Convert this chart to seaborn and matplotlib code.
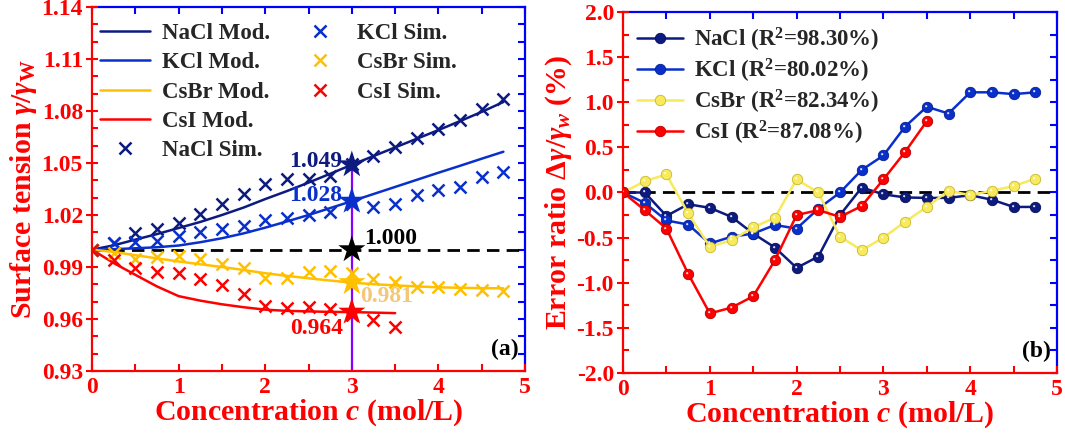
import numpy as np
import pandas as pd
import matplotlib
matplotlib.use("Agg")
import matplotlib.pyplot as plt
import seaborn as sns
from matplotlib.ticker import MultipleLocator, FormatStrFormatter
from matplotlib.lines import Line2D
from matplotlib.path import Path

# ---------------- data ----------------
conc = [0.0, 0.25, 0.5, 0.75, 1.0, 1.25, 1.5, 1.75, 2.0, 2.25,
        2.5, 2.75, 3.0, 3.25, 3.5, 3.75, 4.0, 4.25, 4.5, 4.75]
conc_csi = [0.0, 0.25, 0.5, 0.75, 1.0, 1.25, 1.5, 1.75, 2.0, 2.25,
            2.5, 2.75, 3.0, 3.25, 3.5]

# simulated surface tension ratio
nacl_sim = [1.000, 1.0036, 1.0098, 1.0117, 1.0155, 1.0204, 1.0262, 1.0322, 1.0381, 1.0408,
            1.0408, 1.0425, 1.0492, 1.0542, 1.0594, 1.0646, 1.0694, 1.0748, 1.0810, 1.0869]
kcl_sim = [1.000, 1.0036, 1.0046, 1.0050, 1.0079, 1.0103, 1.0117, 1.0136, 1.0171, 1.0184,
           1.0200, 1.0215, 1.0265, 1.0248, 1.0263, 1.0315, 1.0344, 1.0363, 1.0417, 1.0450]
csbr_sim = [1.000, 0.9979, 0.9946, 0.9956, 0.9962, 0.9946, 0.9915, 0.9892, 0.9834, 0.9838,
            0.9873, 0.9877, 0.9863, 0.9829, 0.9811, 0.9783, 0.9783, 0.9773, 0.9767, 0.9763]
csi_sim = [1.000, 0.9940, 0.9892, 0.9873, 0.9863, 0.9830, 0.9796, 0.9742, 0.9676, 0.9665,
           0.9670, 0.9655, 0.9626, 0.9594, 0.9555]

# model surface tension ratio
nacl_mod = [1.000, 1.0025, 1.0058, 1.0090, 1.0125, 1.0160, 1.0200, 1.0243, 1.0292, 1.0338,
            1.0387, 1.0438, 1.0490, 1.0540, 1.0590, 1.0640, 1.0690, 1.0742, 1.0795, 1.0852]
kcl_mod = [1.000, 1.0003, 1.0008, 1.0014, 1.0024, 1.0043, 1.0066, 1.0094, 1.0127, 1.0163,
           1.0200, 1.0240, 1.0280, 1.0321, 1.0362, 1.0403, 1.0444, 1.0484, 1.0525, 1.0565]
csbr_mod = [1.000, 0.9987, 0.9968, 0.9950, 0.9932, 0.9916, 0.9900, 0.9883, 0.9864, 0.9849,
            0.9835, 0.9822, 0.9810, 0.9801, 0.9794, 0.9788, 0.9783, 0.9780, 0.9778, 0.9777]
csi_mod = [1.000, 0.9923, 0.9855, 0.9788, 0.9732, 0.9706, 0.9685, 0.9668, 0.9654, 0.9647,
           0.9644, 0.9641, 0.9640, 0.9637, 0.9634]

# highlighted values at c = 3 mol/L
star_x = 3.0
star_vals = [1.049, 1.028, 1.000, 0.981, 0.964]
star_labels = ["1.049", "1.028", "1.000", "0.981", "0.964"]

# error ratio (%)
nacl_err = [0.0, 0.0, -0.26, -0.13, -0.17, -0.27, -0.455, -0.61, -0.835, -0.71,
            -0.25, 0.055, -0.02, -0.055, -0.06, -0.06, -0.03, -0.08, -0.16, -0.16]
kcl_err = [0.0, -0.115, -0.31, -0.355, -0.565, -0.49, -0.455, -0.36, -0.40, -0.18,
           0.0, 0.25, 0.41, 0.73, 0.95, 0.875, 1.11, 1.11, 1.09, 1.11]
csbr_err = [0.0, 0.125, 0.20, -0.23, -0.60, -0.53, -0.385, -0.28, 0.145, 0.0,
            -0.49, -0.64, -0.50, -0.325, -0.16, 0.02, -0.03, 0.02, 0.07, 0.155]
csi_err = [0.0, -0.195, -0.40, -0.90, -1.34, -1.275, -1.15, -0.75, -0.25, -0.195,
           -0.27, -0.15, 0.145, 0.45, 0.79]

r2_labels = ["NaCl (R$^2$=98.30%)", "KCl (R$^2$=80.02%)",
             "CsBr (R$^2$=82.34%)", "CsI (R$^2$=87.08%)"]

# ---------------- style ----------------
sns.set_theme(style="white")
plt.rcParams["font.family"] = ["Liberation Serif", "DejaVu Serif"]
plt.rcParams["font.weight"] = "bold"
plt.rcParams["mathtext.fontset"] = "custom"
plt.rcParams["mathtext.rm"] = "Liberation Serif:bold"
plt.rcParams["mathtext.it"] = "Liberation Serif:italic:bold"
plt.rcParams["mathtext.bf"] = "Liberation Serif:bold"

C_NACL = "#0d1a80"
C_KCL = "#0a30cc"
C_CSBR = "#ffc000"
C_CSI = "#ff0000"
C_CSBR_B = "#f7ea5c"
RED = "#ff0000"
BLUE = "#0000ff"
TICK_FS = 17
LAB_FS = 21.5
LEG_FS = 16.5

fig = plt.figure(figsize=(10.65, 4.41), dpi=100)
ax1 = fig.add_axes([0.0864, 0.1587, 0.4066, 0.8254])
ax2 = fig.add_axes([0.585, 0.1542, 0.4075, 0.8186])


def style_axes(ax, xmaj, xmin, ymaj, ymin, yfmt, right_step, top_step):
    for s in ["top", "right"]:
        ax.spines[s].set_visible(False)
    for s in ["left", "bottom"]:
        ax.spines[s].set_color(RED)
        ax.spines[s].set_linewidth(1.6)
    ax.xaxis.set_major_locator(MultipleLocator(xmaj))
    ax.xaxis.set_minor_locator(MultipleLocator(xmin))
    ax.yaxis.set_major_locator(MultipleLocator(ymaj))
    ax.yaxis.set_minor_locator(MultipleLocator(ymin))
    ax.xaxis.set_major_formatter(FormatStrFormatter("%d"))
    ax.yaxis.set_major_formatter(FormatStrFormatter(yfmt))
    ax.tick_params(axis="x", which="both", bottom=True, top=False, direction="in",
                   length=5, width=1.5, color=RED, labelcolor=RED, labelsize=TICK_FS, pad=4)
    ax.tick_params(axis="y", which="major", left=True, right=False, direction="inout",
                   length=9, width=1.5, color=RED, labelcolor=RED, labelsize=TICK_FS, pad=2)
    ax.tick_params(axis="y", which="minor", left=True, right=False, direction="in",
                   length=4, width=1.5, color=RED)
    for lab in ax.get_xticklabels() + ax.get_yticklabels():
        lab.set_fontweight("bold")
    sec_r = ax.secondary_yaxis("right")
    sec_r.yaxis.set_major_locator(MultipleLocator(right_step))
    sec_r.tick_params(direction="in", length=5, width=1.5, color=BLUE, labelright=False)
    sec_r.spines["right"].set_color(BLUE)
    sec_r.spines["right"].set_linewidth(1.6)
    sec_t = ax.secondary_xaxis("top")
    sec_t.xaxis.set_major_locator(MultipleLocator(top_step))
    sec_t.tick_params(direction="in", length=5, width=1.5, color=BLUE, labeltop=False)
    sec_t.spines["top"].set_color(BLUE)
    sec_t.spines["top"].set_linewidth(1.6)


# ---------------- panel (a) ----------------
ax = ax1
handles = []
for yv, col, lab, xs in [(nacl_mod, C_NACL, "NaCl Mod.", conc),
                         (kcl_mod, C_KCL, "KCl Mod.", conc),
                         (csbr_mod, C_CSBR, "CsBr Mod.", conc),
                         (csi_mod, C_CSI, "CsI Mod.", conc_csi)]:
    sns.lineplot(x=xs, y=yv, ax=ax, color=col, lw=1.8, label=lab, legend=False)
    handles.append(ax.lines[-1])
for yv, col, lab, xs in [(nacl_sim, C_NACL, "NaCl Sim.", conc),
                         (kcl_sim, C_KCL, "KCl Sim.", conc),
                         (csbr_sim, C_CSBR, "CsBr Sim.", conc),
                         (csi_sim, C_CSI, "CsI Sim.", conc_csi)]:
    sns.lineplot(x=xs, y=yv, ax=ax, color=col, linestyle="", marker="x",
                 markersize=8, mew=1.8, mec=col, label=lab, legend=False)
    handles.append(ax.lines[-1])

ax.axhline(star_vals[2], color="black", ls=(0, (4.5, 2.6)), lw=2, zorder=1)
ax.vlines(star_x, 0.93, star_vals[0], color="#8a00ff", lw=1.6, zorder=2)

star_cols = [C_NACL, C_KCL, "black", C_CSBR, C_CSI]
star_df = pd.DataFrame({"c": [star_x] * len(star_vals), "v": star_vals, "name": star_labels})
sns.scatterplot(data=star_df, x="c", y="v", hue="name", palette=star_cols, marker="*",
                s=420, linewidth=0, legend=False, ax=ax, zorder=5)

txt_cols = [C_NACL, C_KCL, "black", "#f2c77a", C_CSI]
offsets = [(-7, 2), (-7, 4), (9, 8), (6, -10), (-6, -12)]
has = ["right", "right", "left", "left", "right"]
for v, lab, col, off, ha in zip(star_vals, star_labels, txt_cols, offsets, has):
    ax.annotate(lab, xy=(star_x, v), xytext=off, textcoords="offset points",
                ha=ha, va="center", color=col, fontsize=17, fontweight="bold", zorder=6)

ax.text(0.985, 0.03, "(a)", transform=ax.transAxes, ha="right", va="bottom",
        fontsize=17, fontweight="bold", color="black")

ax.set_xlim(0, 5)
ax.set_ylim(0.93, 1.14)
style_axes(ax, 1, 0.5, 0.03, 0.01, "%.2f", 0.01, 0.5)
ax.set_xlabel("Concentration $c$ (mol/L)", color=RED, fontsize=LAB_FS, fontweight="bold", labelpad=0)
ax.set_ylabel("Surface tension $\\gamma/\\gamma_{\\rm W}$", color=RED, fontsize=LAB_FS,
              fontweight="bold", labelpad=2)

blank = Line2D([], [], linestyle="", marker="")
leg_h = handles[:4] + [handles[4]] + handles[5:8] + [blank, blank]
leg_l = ["NaCl Mod.", "KCl Mod.", "CsBr Mod.", "CsI Mod.", "NaCl Sim.",
         "KCl Sim.", "CsBr Sim.", "CsI Sim.", "", ""]
ax.legend(leg_h, leg_l, loc="upper left", bbox_to_anchor=(0.0, 0.978), ncol=2, frameon=False,
          handlelength=2.2, handletextpad=0.5, labelspacing=0.36, columnspacing=1.1,
          borderaxespad=0.05, borderpad=0.3, prop={"weight": "bold", "size": LEG_FS})

# ---------------- panel (b) ----------------
ax = ax2
ax.axhline(0.0, color="black", ls=(0, (4.5, 2.6)), lw=2, zorder=1)
edge_cols = ["#06104f", "#061e8a", "#c9b62e", "#b00000"]
hl_marker = Path.circle(center=(-0.6, 0.6), radius=0.5)
rh = []
for yv, col, ec, lab, xs in [(nacl_err, C_NACL, edge_cols[0], r2_labels[0], conc),
                             (kcl_err, C_KCL, edge_cols[1], r2_labels[1], conc),
                             (csbr_err, C_CSBR_B, edge_cols[2], r2_labels[2], conc),
                             (csi_err, C_CSI, edge_cols[3], r2_labels[3], conc_csi)]:
    sns.lineplot(x=xs, y=yv, ax=ax, color=col, lw=1.8, marker="o", markersize=7.5,
                 mec=ec, mew=0.6, label=lab, legend=False, zorder=3)
    rh.append(ax.lines[-1])
    sns.lineplot(x=xs, y=yv, ax=ax, color="white", linestyle="", marker=hl_marker,
                 markersize=3.5, mew=0, mec="white", alpha=0.85, legend=False, zorder=4)

ax.text(0.985, 0.03, "(b)", transform=ax.transAxes, ha="right", va="bottom",
        fontsize=17, fontweight="bold", color="black")
ax.set_xlim(0, 5)
ax.set_ylim(-2.0, 2.0)
style_axes(ax, 1, 0.5, 0.5, 0.25, "%.1f", 0.25, 0.5)
ax.set_xlabel("Concentration $c$ (mol/L)", color=RED, fontsize=LAB_FS, fontweight="bold", labelpad=0)
ax.set_ylabel("Error ratio $\\Delta\\gamma/\\gamma_w$ (%)", color=RED, fontsize=LAB_FS,
              fontweight="bold", labelpad=2)
ax.legend(rh, r2_labels, loc="upper left", frameon=False, handlelength=2.0,
          handletextpad=0.5, labelspacing=0.12, borderaxespad=0.2,
          prop={"weight": "bold", "size": LEG_FS})

fig.savefig("out.png", dpi=100)
